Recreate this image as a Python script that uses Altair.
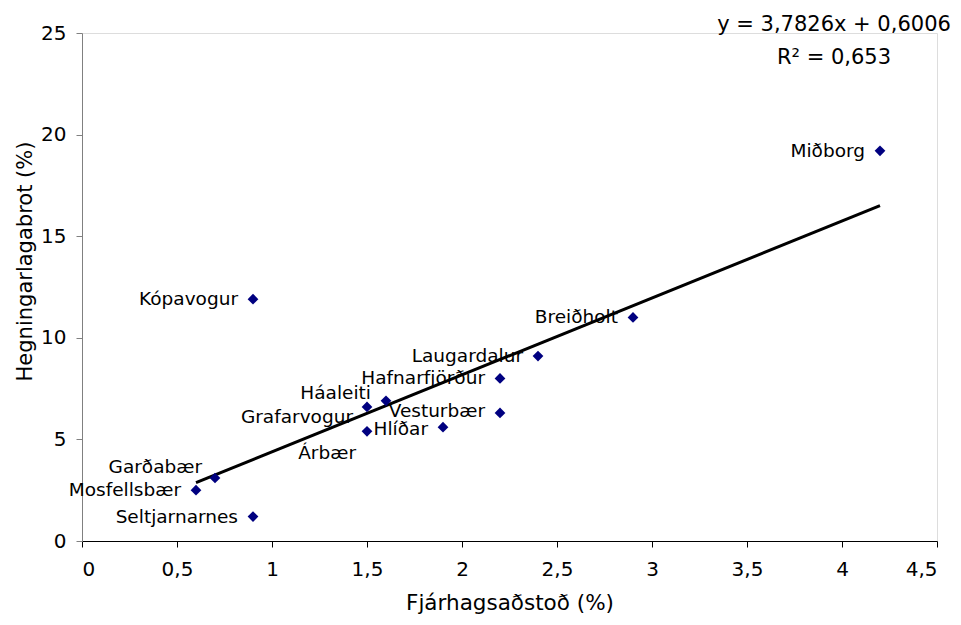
import altair as alt
import pandas as pd

names = ["Miðborg", "Breiðholt", "Laugardalur", "Hafnarfjörður", "Vesturbær",
         "Hlíðar", "Háaleiti", "Grafarvogur", "Árbær", "Kópavogur",
         "Garðabær", "Mosfellsbær", "Seltjarnarnes"]
fjarhagsadstod = [4.2, 2.9, 2.4, 2.2, 2.2, 1.9, 1.6, 1.5, 1.5, 0.9, 0.7, 0.6, 0.9]
hegningarlagabrot = [19.2, 11.0, 9.1, 8.0, 6.3, 5.6, 6.9, 6.6, 5.4, 11.9, 3.1, 2.5, 1.2]

x_ticks = [0, 0.5, 1, 1.5, 2, 2.5, 3, 3.5, 4, 4.5]
y_ticks = [0, 5, 10, 15, 20, 25]
equation = "y = 3,7826x + 0,6006"
r_squared = "R² = 0,653"

df = pd.DataFrame({"name": names, "x": fjarhagsadstod, "y": hegningarlagabrot})

FONT = "DejaVu Sans"

xs = alt.Scale(domain=[0, 4.5], nice=False, zero=False)
ys = alt.Scale(domain=[0, 25], nice=False)

x_axis = alt.Axis(values=x_ticks, labelExpr="replace(toString(datum.value), '.', ',')",
                  grid=False, tickSize=6, domainColor="#000000", tickColor="#000000",
                  labelPadding=12, labelFontSize=20, labelColor="#000000",
                  title="Fjárhagsaðstoð (%)", titleFontSize=21.5, titleFontWeight="normal",
                  titleColor="#000000", titleBaseline="alphabetic", titleY=68)
y_axis = alt.Axis(values=y_ticks, grid=False, tickSize=6, domainColor="#808080",
                  tickColor="#808080", labelPadding=10, labelFontSize=20,
                  labelColor="#000000", title="Hegningarlagabrot (%)", titleFontSize=21,
                  titleFontWeight="normal", titleColor="#000000", titleAngle=270,
                  titleBaseline="alphabetic", titleAlign="center", titleX=-51, titleY=228)

base = alt.Chart(df)

points = base.mark_point(shape="diamond", filled=True, size=115, color="#000080",
                         opacity=1).encode(
    x=alt.X("x:Q", scale=xs, axis=x_axis),
    y=alt.Y("y:Q", scale=ys, axis=y_axis),
)

trend = base.transform_regression("x", "y", method="linear").mark_line(
    color="#000000", strokeWidth=3).encode(
    x=alt.X("x:Q", scale=xs), y=alt.Y("y:Q", scale=ys))

# label offsets (pixels) for labels that were moved from default left placement
special = {"Garðabær": (-13, -11), "Háaleiti": (-15, -8),
           "Grafarvogur": (-14, 10), "Árbær": (-11, 22),
           "Vesturbær": (-15, -2), "Hlíðar": (-15, 2)}

LABEL_SIZE = 18.5
label_layers = []
default_names = [n for n in names if n not in special]
label_layers.append(
    base.transform_filter(alt.FieldOneOfPredicate(field="name", oneOf=default_names))
    .mark_text(align="right", baseline="middle", dx=-15, font=FONT, fontSize=LABEL_SIZE,
               color="#000000")
    .encode(x=alt.X("x:Q", scale=xs), y=alt.Y("y:Q", scale=ys), text="name:N")
)
for n, (ddx, ddy) in special.items():
    label_layers.append(
        base.transform_filter(alt.FieldEqualPredicate(field="name", equal=n))
        .mark_text(align="right", baseline="middle", dx=ddx, dy=ddy, font=FONT,
                   fontSize=LABEL_SIZE, color="#000000")
        .encode(x=alt.X("x:Q", scale=xs), y=alt.Y("y:Q", scale=ys), text="name:N")
    )

eq_df = pd.DataFrame({"t": [equation, r_squared], "row": [0, 1]})
eq1 = alt.Chart(eq_df).transform_filter("datum.row == 0").mark_text(
    align="center", baseline="alphabetic", font=FONT, fontSize=21, color="#000000"
).encode(x=alt.value(752), y=alt.value(-2), text="t:N")
eq2 = alt.Chart(eq_df).transform_filter("datum.row == 1").mark_text(
    align="center", baseline="alphabetic", font=FONT, fontSize=21, color="#000000"
).encode(x=alt.value(752), y=alt.value(31), text="t:N")

chart = alt.layer(trend, points, *label_layers, eq1, eq2).properties(
    width=855, height=508,
    autosize=alt.AutoSizeParams(type="none"),
    padding={"left": 74, "top": 25, "right": 16, "bottom": 76},
).configure_view(stroke=None).configure(font=FONT)

chart.save("out.html", embed_options={"renderer": "svg", "actions": False})
